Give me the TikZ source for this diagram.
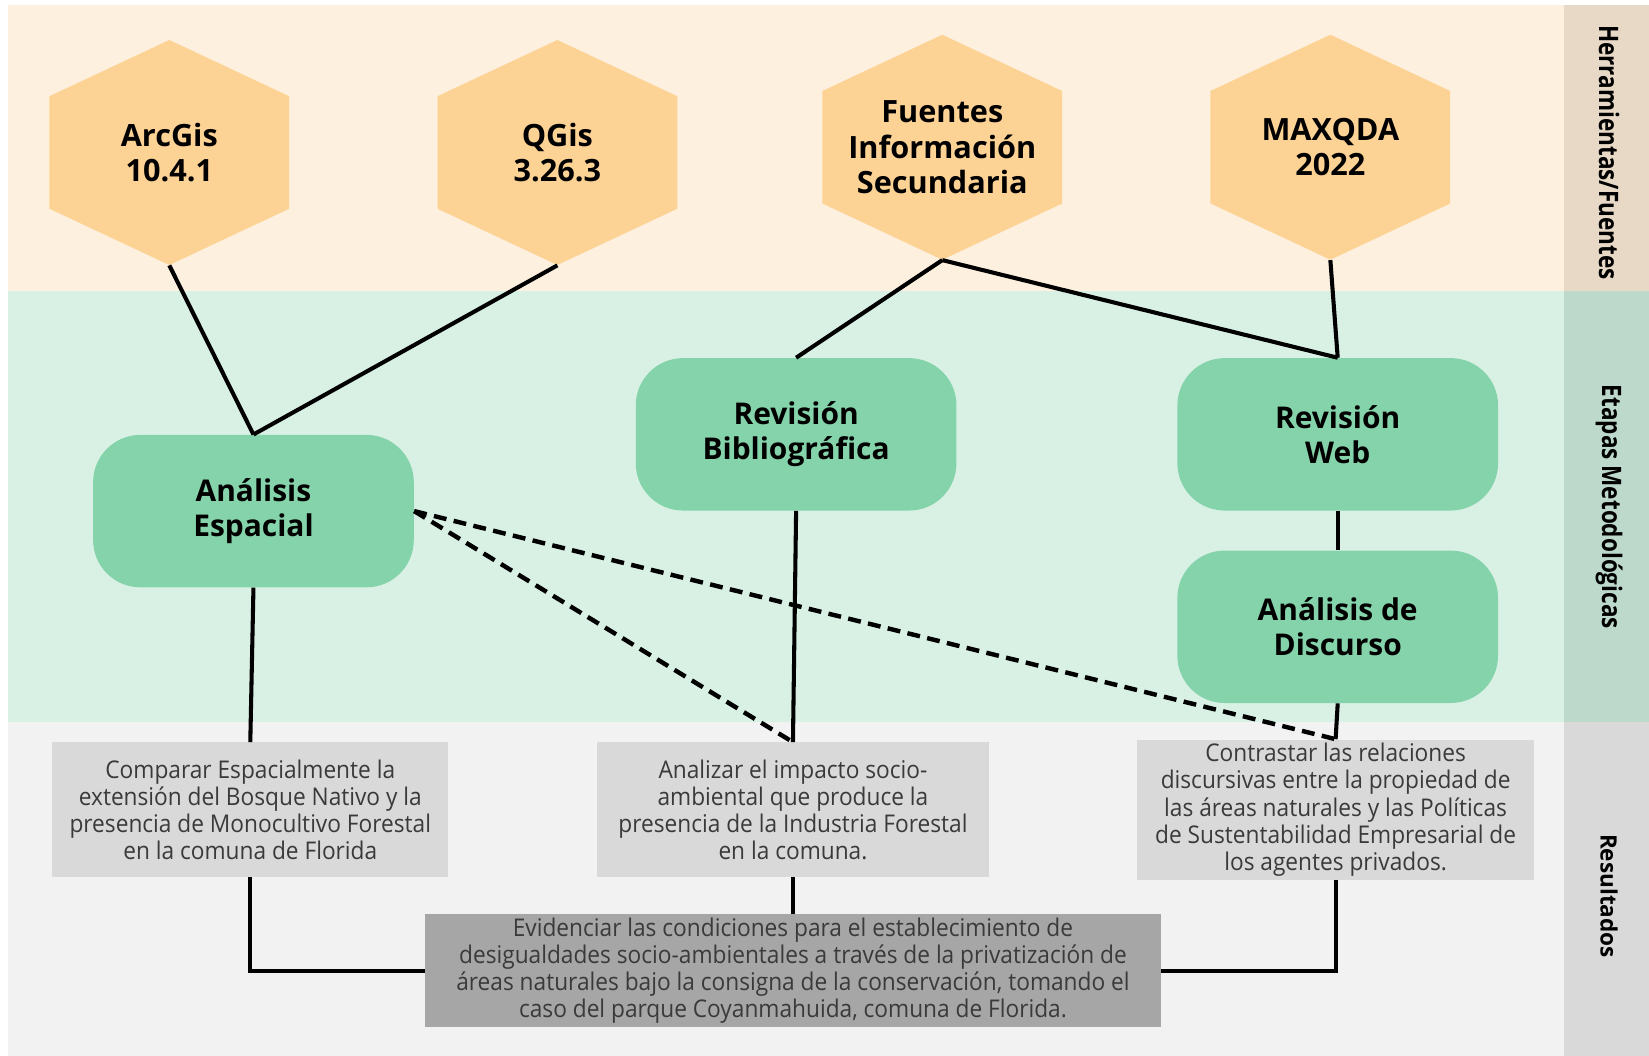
\documentclass[tikz,border=0pt]{standalone}
\usepackage{fontspec}
\setmainfont{Open Sans}
\newfontfamily\condfont[FakeStretch=0.84]{Open Sans}
\newfontfamily\lightfont[FakeStretch=0.93]{Open Sans}
\usepackage{xcolor}
\usetikzlibrary{calc}

\definecolor{bandtop}{HTML}{FDF0DF}
\definecolor{bandmid}{HTML}{D9F1E4}
\definecolor{bandbot}{HTML}{F2F2F2}
\definecolor{tagtop}{HTML}{E7D9C6}
\definecolor{tagmid}{HTML}{BDD9CC}
\definecolor{tagbot}{HTML}{D9D9D9}
\definecolor{hexfill}{HTML}{FDD395}
\definecolor{stagefill}{HTML}{85D3AA}
\definecolor{resfill}{HTML}{D9D9D9}
\definecolor{finalfill}{HTML}{A6A6A6}
\definecolor{restext}{HTML}{3A3A3A}

\tikzset{
  hexnode/.style={shape=rectangle, minimum width=4.56cm, minimum height=4.28cm, inner sep=0pt, align=center,
    font=\bfseries\fontsize{16.6}{19}\selectfont,
    path picture={\fill[hexfill] (path picture bounding box.north)
      -- ($(path picture bounding box.north east)!.25!(path picture bounding box.south east)$)
      -- ($(path picture bounding box.north east)!.75!(path picture bounding box.south east)$)
      -- (path picture bounding box.south)
      -- ($(path picture bounding box.north west)!.75!(path picture bounding box.south west)$)
      -- ($(path picture bounding box.north west)!.25!(path picture bounding box.south west)$)
      -- cycle;}},
  stagenode/.style={shape=rectangle, rounded corners=0.9cm, fill=stagefill, minimum width=6.1cm, minimum height=2.9cm,
    align=center, font=\bfseries\fontsize{16.2}{19}\selectfont},
  resnode/.style={shape=rectangle, fill=resfill, minimum height=2.56cm, inner sep=2pt, align=center, text=restext,
    font=\lightfont\fontsize{13.2}{14.7}\selectfont},
  finalnode/.style={resnode, fill=finalfill, minimum width=14cm, minimum height=2.08cm},
  tagtext/.style={rotate=-90, font=\condfont\bfseries\fontsize{14.5}{16}\selectfont},
  link/.style={line width=2.2pt},
  dashlink/.style={line width=2.4pt, dash pattern=on 7pt off 4pt}
}

\begin{document}
\begin{tikzpicture}[x=0.02cm, y=-0.02cm]
	\useasboundingbox (0,0) rectangle (1568,1004);
	% Bands:
	\fill[bandtop] (8,5) rectangle (1487,277);
	\fill[tagtop] (1487,5) rectangle (1568,277);
	\fill[bandmid] (8,277) rectangle (1487,687);
	\fill[tagmid] (1487,277) rectangle (1568,687);
	\fill[bandbot] (8,687) rectangle (1487,1004);
	\fill[tagbot] (1487,687) rectangle (1568,1004);
	\node[tagtext] (tagtools) at (1530,145) {Herramientas/Fuentes};
	\node[tagtext] (tagsteps) at (1530,482) {Etapas Metodológicas};
	\node[tagtext, font=\bfseries\fontsize{12.2}{14}\selectfont] (tagres) at (1530,852) {Resultados};
	% Paths, nodes and wires:
	\node[hexnode] (arcgis) at (161,145) {ArcGis\\10.4.1};
	\node[hexnode] (qgis) at (530,145) {QGis\\3.26.3};
	\node[hexnode] (fuentes) at (896,140) {Fuentes\\Información\\Secundaria};
	\node[hexnode] (maxqda) at (1265,140) {MAXQDA\\2022};
	\node[stagenode] (espacial) at (241,486) {Análisis\\Espacial};
	\node[stagenode] (biblio) at (757,413) {Revisión\\Bibliográfica};
	\node[stagenode] (web) at (1272,413) {Revisión\\Web};
	\node[stagenode] (discurso) at (1272,596) {Análisis de\\Discurso};
	\node[resnode, minimum width=7.54cm] (res1) at (238,770) {Comparar Espacialmente la\\extensión del Bosque Nativo y la\\presencia de Monocultivo Forestal\\en la comuna de Florida};
	\node[resnode, minimum width=7.44cm] (res2) at (754,770) {Analizar el impacto socio-\\ambiental que produce la\\presencia de la Industria Forestal\\en la comuna.};
	\node[resnode, minimum width=7.56cm] (res3) at (1270,770) {Contrastar las relaciones\\discursivas entre la propiedad de\\las áreas naturales y las Políticas\\de Sustentabilidad Empresarial de\\los agentes privados.};
	\node[finalnode] (final) at (754,923) {Evidenciar las condiciones para el establecimiento de\\desigualdades socio-ambientales a través de la privatización de\\áreas naturales bajo la consigna de la conservación, tomando el\\caso del parque Coyanmahuida, comuna de Florida.};
	\draw[link] (arcgis.south) -- (espacial.north);
	\draw[link] (qgis.south) -- (espacial.north);
	\draw[link] (fuentes.south) -- (biblio.north);
	\draw[link] (fuentes.south) -- (web.north);
	\draw[link] (maxqda.south) -- (web.north);
	\draw[link] (web.south) -- (discurso.north);
	\draw[link] (espacial.south) -- (res1.north);
	\draw[link] (biblio.south) -- (res2.north);
	\draw[link] (discurso.south) -- (res3.north);
	\draw[dashlink] (espacial.east) -- (res2.north);
	\draw[dashlink] (espacial.east) -- (res3.north);
	\draw[link] (res1.south) |- (final.west);
	\draw[link] (res2.south) -- (final.north);
	\draw[link] (res3.south) |- (final.east);
\end{tikzpicture}
\end{document}
